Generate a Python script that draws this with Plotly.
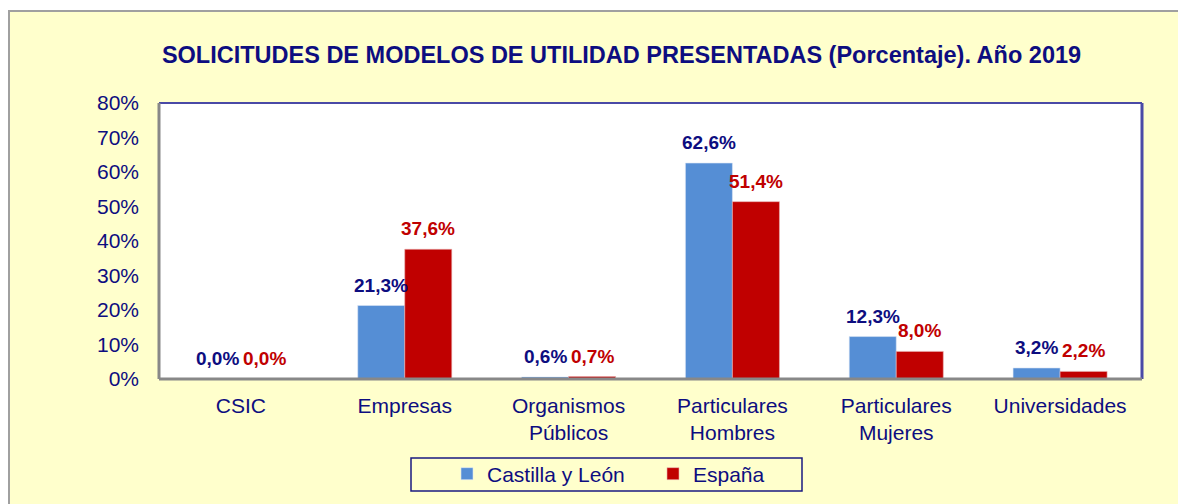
import plotly.graph_objects as go

categories = ["CSIC", "Empresas", "Organismos<br>Públicos", "Particulares<br>Hombres",
              "Particulares<br>Mujeres", "Universidades"]
castilla = [0.0, 21.3, 0.6, 62.6, 12.3, 3.2]
espana = [0.0, 37.6, 0.7, 51.4, 8.0, 2.2]
series_names = ["Castilla y León", "España"]
y_ticks = [0, 10, 20, 30, 40, 50, 60, 70, 80]
y_tick_text = [f"{v}%" for v in y_ticks]

OFF = 8  # page body margin
W, H = 1178, 496
# plot area in page coordinates: x 159-1142, y 103-379
L, R, T, B = 159 - OFF, W - (1142 - OFF), 103 - OFF, H - (379 - OFF)
pw, ph = W - L - R, H - T - B

def px_x(x):  # page px -> paper
    return (x - OFF - L) / pw

def px_y(y):
    return (H - B - (y - OFF)) / ph

NAVY = "#0D0D80"
BLUE = "#558ED5"
RED = "#C00000"
FONT = "Liberation Sans, Arial, sans-serif"

fig = go.Figure()
fig.add_trace(go.Bar(x=categories, y=castilla, name=series_names[0],
                     marker=dict(color=BLUE, line=dict(color="#DCE6F5", width=0.6))))
fig.add_trace(go.Bar(x=categories, y=espana, name=series_names[1],
                     marker=dict(color=RED, line=dict(color="#E8B0B0", width=0.6))))

def fmt(v):
    return f"{v:.1f}".replace(".", ",") + "%"

bw = pw / len(categories) * 0.574 / 2
annotations = []
for cat, v in zip(categories, castilla):
    annotations.append(dict(x=cat, y=v, xref="x", yref="y", text=fmt(v), showarrow=False,
                            xshift=-bw / 2, yshift=8, yanchor="bottom",
                            font=dict(family=FONT, size=19, color=NAVY, weight="bold")))
for cat, v in zip(categories, espana):
    annotations.append(dict(x=cat, y=v, xref="x", yref="y", text=fmt(v), showarrow=False,
                            xshift=bw / 2, yshift=8, yanchor="bottom",
                            font=dict(family=FONT, size=19, color=RED, weight="bold")))

shapes = [
    # outer yellow panel
    dict(type="rect", xref="paper", yref="paper", layer="below",
         x0=px_x(9), x1=px_x(1200), y0=px_y(520), y1=px_y(11),
         fillcolor="#FFFFCC", line=dict(color="#A0A0A0", width=2)),
    # plot area
    dict(type="rect", xref="paper", yref="paper", layer="below",
         x0=0, x1=1, y0=0, y1=1, fillcolor="white", line=dict(width=0)),
    # plot borders
    dict(type="line", xref="paper", yref="paper", x0=0, x1=1, y0=1, y1=1,
         line=dict(color="#4A4AA6", width=2)),
    dict(type="line", xref="paper", yref="paper", x0=1, x1=1, y0=0, y1=1,
         line=dict(color="#4A4AA6", width=3)),
    dict(type="line", xref="paper", yref="paper", x0=0, x1=1, y0=0, y1=0,
         line=dict(color="#888888", width=3)),
    dict(type="line", xref="paper", yref="paper", x0=0, x1=0, y0=0, y1=1,
         line=dict(color="#888888", width=3)),
    # legend box
    dict(type="rect", xref="paper", yref="paper",
         x0=px_x(411), x1=px_x(802), y0=px_y(491), y1=px_y(458),
         line=dict(color="#1A1A80", width=1.5)),
]

fig.update_layout(
    width=W, height=H,
    margin=dict(l=L, r=R, t=T, b=B, autoexpand=False),
    paper_bgcolor="white",
    plot_bgcolor="rgba(0,0,0,0)",
    barmode="group", bargap=0.426, bargroupgap=0,
    font=dict(family=FONT, color=NAVY, size=21),
    title=dict(text="<b>SOLICITUDES DE MODELOS DE UTILIDAD PRESENTADAS (Porcentaje). Año 2019</b>",
               x=(621.5 - OFF) / W, xanchor="center", xref="container",
               y=1 - (55 - OFF) / H, yanchor="middle", yref="container",
               font=dict(family=FONT, size=23.5, color=NAVY)),
    xaxis=dict(showgrid=False, showline=False, ticks="", zeroline=False,
               tickfont=dict(size=21, color=NAVY), ticklabelstandoff=12),
    yaxis=dict(range=[0, 80], tickmode="array", tickvals=y_ticks, ticktext=y_tick_text,
               showgrid=False, showline=False, zeroline=False, ticks="",
               tickfont=dict(size=21, color=NAVY), ticklabelstandoff=19),
    legend=dict(orientation="h", x=px_x(447), xanchor="left", y=px_y(474),
                yanchor="middle", bgcolor="rgba(0,0,0,0)", borderwidth=0,
                font=dict(size=21, color=NAVY), itemwidth=30, entrywidth=161),
    shapes=shapes,
    annotations=annotations,
    showlegend=True,
)

fig.write_html("out.html")
